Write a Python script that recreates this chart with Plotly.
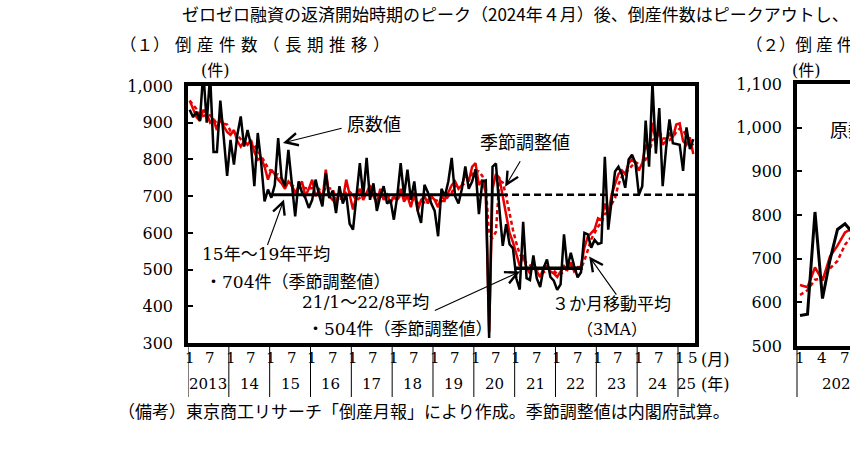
import plotly.graph_objects as go

# --- データ（東京商工リサーチ「倒産月報」、2013年1月～2025年5月） ---
months = [f"{y}/{m}" for y in range(2013, 2026) for m in range(1, 13)
          if not (y == 2025 and m > 5)]

# 原数値（件）
raw = [
    935, 915, 930, 905, 1040, 900, 1030, 820, 820, 960, 860, 755,   # 2013
    853, 786, 867, 917, 835, 880, 840, 727, 872, 791, 686, 718,     # 2014
    696, 730, 858, 750, 727, 826, 736, 645, 740, 710, 695, 668,     # 2015
    690, 745, 705, 672, 763, 695, 715, 654, 727, 680, 705, 625,     # 2016
    609, 700, 790, 700, 804, 690, 735, 660, 700, 727, 680, 690,     # 2017
    636, 700, 790, 700, 772, 690, 740, 660, 627, 731, 710, 680,     # 2018
    660, 591, 720, 700, 740, 804, 700, 680, 720, 781, 720, 740,     # 2019
    773, 651, 740, 743, 314, 780, 789, 667, 565, 624, 569, 558,     # 2020
    476, 446, 630, 477, 472, 539, 476, 453, 505, 528, 480, 470,     # 2021
    445, 460, 596, 505, 546, 510, 479, 493, 600, 596, 560, 581,     # 2022
    570, 573, 807, 609, 697, 767, 780, 760, 723, 800, 813, 790,     # 2023
    704, 727, 906, 780, 1009, 816, 940, 727, 830, 909, 844, 842,    # 2024
    840, 769, 887, 828, 855,                                        # 2025
]

# 季節調整値（件）
sa = [
    960, 935, 915, 905, 935, 925, 900, 908, 880, 921, 890, 875,
    867, 880, 850, 835, 850, 840, 853, 820, 799, 804, 780, 745,
    772, 760, 745, 735, 720, 740, 730, 709, 725, 740, 700, 720,
    745, 700, 715, 690, 772, 700, 690, 680, 710, 690, 745, 700,
    664, 700, 720, 690, 710, 730, 700, 680, 720, 690, 705, 680,
    700, 690, 720, 685, 700, 670, 710, 660, 690, 700, 680, 700,
    690, 670, 700, 690, 710, 730, 740, 720, 730, 760, 740, 780,
    790, 730, 745, 710, 330, 720, 760, 750, 700, 650, 600, 575,
    540, 510, 540, 505, 490, 520, 495, 480, 505, 510, 495, 490,
    480, 495, 510, 500, 520, 495, 505, 510, 560, 590, 600, 610,
    640, 635, 680, 650, 705, 730, 760, 770, 760, 790, 800, 790,
    770, 790, 840, 820, 900, 850, 880, 840, 850, 870, 860, 895,
    898, 850, 840, 860, 815,
]

# 3か月移動平均（季節調整値, 件）
ma3 = [
    960, 948, 937, 918, 918, 922, 920, 911, 896, 903, 897, 895,
    877, 874, 866, 855, 845, 842, 848, 838, 824, 808, 794, 776,
    766, 759, 759, 747, 733, 732, 730, 726, 721, 725, 722, 720,
    722, 722, 720, 702, 726, 721, 721, 690, 693, 693, 715, 712,
    703, 688, 695, 703, 707, 710, 713, 703, 700, 697, 705, 692,
    695, 690, 703, 698, 702, 685, 693, 680, 687, 683, 690, 693,
    690, 687, 687, 687, 700, 710, 727, 730, 730, 737, 743, 760,
    770, 767, 755, 728, 595, 587, 603, 743, 737, 700, 650, 608,
    572, 542, 530, 518, 512, 505, 502, 498, 493, 498, 503, 498,
    488, 488, 495, 502, 510, 505, 507, 503, 525, 553, 583, 600,
    617, 628, 652, 655, 678, 695, 732, 753, 763, 773, 783, 793,
    787, 783, 800, 817, 853, 857, 877, 857, 857, 853, 860, 875,
    884, 881, 863, 850, 838,
]

# 平均値（季節調整値）
avg_1519 = 704
avg_2122 = 504

y_ticks1 = [300, 400, 500, 600, 700, 800, 900, 1000]
y_text1 = ["300", "400", "500", "600", "700", "800", "900", "1,000"]
y_ticks2 = [500, 600, 700, 800, 900, 1000, 1100]
y_text2 = ["500", "600", "700", "800", "900", "1,000", "1,100"]
year_labels = ["2013", "14", "15", "16", "17", "18", "19", "20", "21", "22", "23", "24", "25"]

SERIF = "DejaVu Serif, Noto Sans CJK JP"
GOTHIC = "Noto Sans CJK JP"
W, H = 850, 465
SP = "\u2004"
SP_NARROW = "\u2005"
# 撮影時に縦方向がわずかに詰まるので、その分だけ上下に広げておく
Y_STRETCH = 1 / 0.962


def px(x):
    return x / W


def py(y):
    y = H / 2 + (y - H / 2) * Y_STRETCH
    return 1 - y / H


idx = list(range(len(months)))
i2023 = months.index("2023/1")
idx2 = [i - i2023 for i in idx[i2023:]]

fig = go.Figure()

# --- (1) 長期推移 ---
fig.add_trace(go.Scatter(x=idx, y=ma3, mode="lines", xaxis="x", yaxis="y",
                         line={"color": "#e60000", "width": 2.5, "dash": "4px,3px"}))
fig.add_trace(go.Scatter(x=idx, y=sa, mode="lines", xaxis="x", yaxis="y",
                         line={"color": "#e60000", "width": 2.5}))
fig.add_trace(go.Scatter(x=idx, y=raw, mode="lines", xaxis="x", yaxis="y",
                         line={"color": "black", "width": 2.5}))

# 15年～19年平均（実線）とその延長（破線）
s1 = months.index("2015/1") - 0.5
e1 = months.index("2020/9") - 0.5
fig.add_trace(go.Scatter(x=[s1, e1], y=[avg_1519, avg_1519], mode="lines",
                         line={"color": "black", "width": 3}))
fig.add_trace(go.Scatter(x=[e1, idx[-1] + 0.5], y=[avg_1519, avg_1519], mode="lines",
                         line={"color": "black", "width": 2.5, "dash": "7px,4px"}))
# 21/1～22/8平均
s2 = months.index("2021/1") - 0.5
e2 = months.index("2022/8") + 0.5
fig.add_trace(go.Scatter(x=[s2, e2], y=[avg_2122, avg_2122], mode="lines",
                         line={"color": "black", "width": 3.5}))

# --- (2) 直近 ---
fig.add_trace(go.Scatter(x=idx2, y=ma3[i2023:], mode="lines", xaxis="x2", yaxis="y2",
                         line={"color": "#e60000", "width": 2.5, "dash": "4px,3px"}))
fig.add_trace(go.Scatter(x=idx2, y=sa[i2023:], mode="lines", xaxis="x2", yaxis="y2",
                         line={"color": "#e60000", "width": 2.5}))
fig.add_trace(go.Scatter(x=idx2, y=raw[i2023:], mode="lines", xaxis="x2", yaxis="y2",
                         line={"color": "black", "width": 3}))

ann = []


def text(x, y, s, size=17, font=SERIF, xanchor="left"):
    ann.append(dict(x=px(x), y=py(y), xref="paper", yref="paper", text=s,
                    showarrow=False, xanchor=xanchor, yanchor="middle",
                    font={"family": font, "size": size, "color": "black"}))


def arrow(x0, y0, x1, y1):
    ann.append(dict(x=x1, y=y1, ax=x0, ay=y0, xref="x", yref="y", axref="x", ayref="y",
                    text="", showarrow=True, arrowhead=5, arrowsize=2.2,
                    arrowwidth=1.1, arrowcolor="black"))


# 見出し
text(180, 13, "ゼロゼロ融資の返済開始時期のピーク（2024年４月）後、倒産件数はピークアウトし、",
     size=17, font=GOTHIC)
text(118, 44, "（１）" + SP + SP.join("倒産件数（長期推移）"), size=16.5, font=GOTHIC)
text(744, 44, "（２）" + SP_NARROW.join("倒産件数"), size=16.5, font=GOTHIC)
text(216, 71, "(件)", size=16, xanchor="center")
text(806, 71, "(件)", size=16, xanchor="center")
text(116, 413, "（備考）東京商工リサーチ「倒産月報」により作成。季節調整値は内閣府試算。", size=17)
text(699, 360, "(月)", size=16)
text(699, 385, "(年)", size=16)

# 注記
text(345, 125, "原数値", size=18)
text(478, 143, "季節調整値", size=18)
text(200, 255, "15年～19年平均", size=17)
text(203, 283, "・704件（季節調整値）", size=17)
text(300, 303, "21/1～22/8平均", size=17)
text(305, 330, "・504件（季節調整値）", size=17)
text(550, 305, "３か月移動平均", size=17)
text(612, 330, "（3MA）", size=16, xanchor="center")
text(828, 131, "原数値", size=18)

arrow(45.1, 886, 27.4, 845)
arrow(97.4, 799, 92.7, 726)
arrow(22.7, 563, 27.7, 691)
arrow(71.6, 387, 97.1, 495)
arrow(125.7, 428, 117.4, 536)

# 月・年ラベル
shapes = []
for k, lab in enumerate(year_labels):
    y = 2013 + k
    sub = ["1", "5"] if y == 2025 else ["1", "7"]
    for m in sub:
        ann.append(dict(x=months.index(f"{y}/{m}"), y=py(359), xref="x", yref="paper",
                        text=m, showarrow=False, xanchor="center", yanchor="middle",
                        font={"family": SERIF, "size": 15, "color": "black"}))
    yr_idx = [i for i, mm in enumerate(months) if mm.startswith(f"{y}/")]
    ann.append(dict(x=(yr_idx[0] + yr_idx[-1]) / 2, y=py(385), xref="x", yref="paper",
                    text=lab, showarrow=False, xanchor="center", yanchor="middle",
                    font={"family": SERIF, "size": 15, "color": "black"}))
    shapes.append(dict(type="line", xref="x", yref="paper", x0=yr_idx[0] - 0.5,
                       x1=yr_idx[0] - 0.5, y0=py(344), y1=py(398),
                       line={"color": "black", "width": 1}))

for m in (1, 4, 7):
    ann.append(dict(x=m - 1, y=py(359), xref="x2", yref="paper", text=str(m),
                    showarrow=False, xanchor="center", yanchor="middle",
                    font={"family": SERIF, "size": 15, "color": "black"}))
ann.append(dict(x=5.5, y=py(385), xref="x2", yref="paper", text="2023",
                showarrow=False, xanchor="center", yanchor="middle",
                font={"family": SERIF, "size": 15, "color": "black"}))
shapes.append(dict(type="line", xref="paper", yref="paper", x0=px(797), x1=px(797),
                   y0=py(347), y1=py(398), line={"color": "black", "width": 1}))

frame = {"showline": True, "linecolor": "black", "linewidth": 3.5,
         "showgrid": False, "zeroline": False}

fig.update_layout(
    width=W, height=H, autosize=False,
    margin={"l": 0, "r": 0, "t": 0, "b": 0},
    paper_bgcolor="white", plot_bgcolor="white",
    showlegend=False,
    xaxis={**frame, "domain": [px(188), px(695)], "range": [-0.5, len(months) - 0.5],
           "mirror": True, "showticklabels": False, "ticks": ""},
    yaxis={**frame, "domain": [py(344), py(86)], "range": [300, 1000], "mirror": True,
           "tickvals": y_ticks1, "ticktext": y_text1, "ticks": "inside",
           "ticklen": 5, "tickwidth": 1.5, "tickcolor": "black", "ticklabelstandoff": 8,
           "tickfont": {"family": SERIF, "size": 16, "color": "black"}},
    xaxis2={**frame, "domain": [px(797), 1.0], "range": [-0.4, 6.67], "anchor": "y2",
            "mirror": True, "showticklabels": False, "ticks": ""},
    yaxis2={**frame, "domain": [py(347), py(84)], "range": [500, 1100], "anchor": "x2",
            "mirror": False, "tickvals": y_ticks2, "ticktext": y_text2, "ticks": "inside",
            "ticklen": 5, "tickwidth": 1.5, "tickcolor": "black", "ticklabelstandoff": 8,
            "tickfont": {"family": SERIF, "size": 16, "color": "black"}},
    annotations=ann,
    shapes=shapes,
)

# ページ既定の余白を消して 850x465 にぴったり収める
fig.write_html("out.html", config={"displayModeBar": False},
               post_script="document.body.style.margin='0';")
